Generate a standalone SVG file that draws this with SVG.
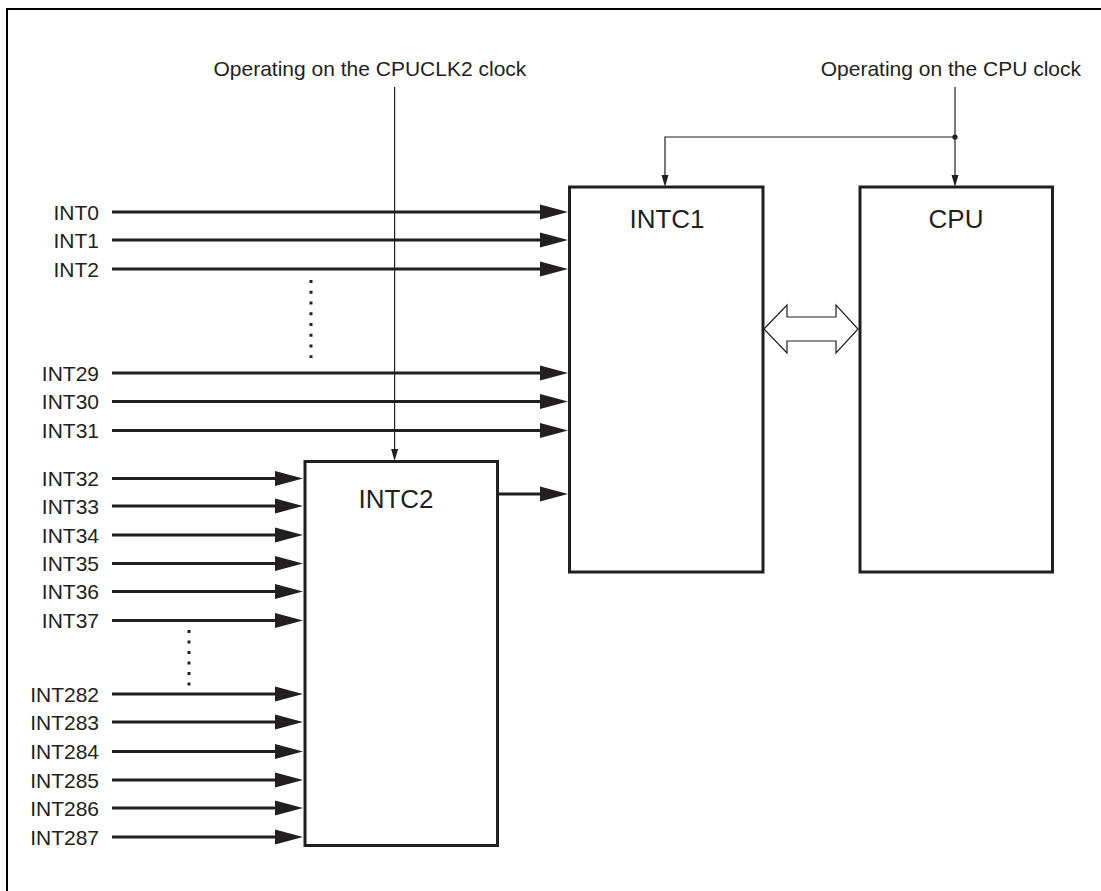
<svg xmlns="http://www.w3.org/2000/svg" width="1101" height="891" viewBox="0 0 1101 891">
<style>
text{font-family:"Liberation Sans",Arial,sans-serif;fill:#231f20}
.lbl{font-size:21px}
.end{text-anchor:end}
.box{fill:#fff;stroke:#231f20;stroke-width:3}
.bt{font-size:26px;text-anchor:middle}
.thick{stroke:#231f20;stroke-width:3;fill:none;marker-end:url(#ah)}
.thin{stroke:#231f20;stroke-width:1.2;fill:none}
.dots{stroke:#231f20;stroke-width:3;fill:none}
</style>
<defs>
<marker id="ah" markerUnits="userSpaceOnUse" markerWidth="28" markerHeight="16" viewBox="0 0 28 16" refX="0" refY="8" orient="auto" overflow="visible">
<path d="M0,0.5 L28,8 L0,15.5 z" fill="#231f20"/>
</marker>
<marker id="sh" markerUnits="userSpaceOnUse" markerWidth="12" markerHeight="8" viewBox="0 0 12 8" refX="0" refY="4" orient="auto" overflow="visible">
<path d="M0,0.5 L12,4 L0,7.5 z" fill="#231f20"/>
</marker>
</defs>
<rect width="1101" height="891" fill="#fff"/>
<path d="M7,891 V9 H1101" fill="none" stroke="#000" stroke-width="2"/>

<g id="clock-labels">
<text class="lbl" x="213.5" y="76">Operating on the CPUCLK2 clock</text>
<text class="lbl end" x="1081" y="76">Operating on the CPU clock</text>
</g>

<g id="connectors">
<line class="thin" x1="394.6" y1="87" x2="394.6" y2="449" marker-end="url(#sh)"/>
<line class="thin" x1="955" y1="87" x2="955" y2="175" marker-end="url(#sh)"/>
<path class="thin" d="M955,137 H665 V175" marker-end="url(#sh)"/>
<circle cx="955" cy="137" r="2.6" fill="#231f20"/>
<line class="thick" x1="112" y1="212" x2="540" y2="212"/>
<line class="thick" x1="112" y1="240" x2="540" y2="240"/>
<line class="thick" x1="112" y1="269" x2="540" y2="269"/>
<line class="thick" x1="112" y1="373" x2="540" y2="373"/>
<line class="thick" x1="112" y1="401.5" x2="540" y2="401.5"/>
<line class="thick" x1="112" y1="430.5" x2="540" y2="430.5"/>
<line class="thick" x1="497" y1="494" x2="540" y2="494"/>
<line class="thick" x1="112" y1="478.5" x2="275" y2="478.5"/>
<line class="thick" x1="112" y1="506" x2="275" y2="506"/>
<line class="thick" x1="112" y1="535" x2="275" y2="535"/>
<line class="thick" x1="112" y1="563.5" x2="275" y2="563.5"/>
<line class="thick" x1="112" y1="591.5" x2="275" y2="591.5"/>
<line class="thick" x1="112" y1="620.5" x2="275" y2="620.5"/>
<line class="thick" x1="112" y1="694" x2="275" y2="694"/>
<line class="thick" x1="112" y1="722" x2="275" y2="722"/>
<line class="thick" x1="112" y1="751.5" x2="275" y2="751.5"/>
<line class="thick" x1="112" y1="780" x2="275" y2="780"/>
<line class="thick" x1="112" y1="808" x2="275" y2="808"/>
<line class="thick" x1="112" y1="837" x2="275" y2="837"/>
<path d="M764,329 L787,305 L787,317 L836,317 L836,305 L858,329 L836,353 L836,341 L787,341 L787,353 z" fill="#fff" stroke="#231f20" stroke-width="1.2" stroke-linejoin="miter"/>
<line class="dots" x1="311" y1="280" x2="311" y2="358" stroke-dasharray="3 7.75"/>
<line class="dots" x1="189" y1="630" x2="189" y2="686" stroke-dasharray="3 7.5"/>
</g>

<g id="input-labels">
<text class="lbl end" x="99" y="219.5">INT0</text>
<text class="lbl end" x="99" y="247.5">INT1</text>
<text class="lbl end" x="99" y="276.5">INT2</text>
<text class="lbl end" x="99" y="380.5">INT29</text>
<text class="lbl end" x="99" y="409">INT30</text>
<text class="lbl end" x="99" y="438">INT31</text>
<text class="lbl end" x="99" y="486">INT32</text>
<text class="lbl end" x="99" y="513.5">INT33</text>
<text class="lbl end" x="99" y="542.5">INT34</text>
<text class="lbl end" x="99" y="571">INT35</text>
<text class="lbl end" x="99" y="599">INT36</text>
<text class="lbl end" x="99" y="628">INT37</text>
<text class="lbl end" x="99" y="701.5">INT282</text>
<text class="lbl end" x="99" y="729.5">INT283</text>
<text class="lbl end" x="99" y="759">INT284</text>
<text class="lbl end" x="99" y="787.5">INT285</text>
<text class="lbl end" x="99" y="815.5">INT286</text>
<text class="lbl end" x="99" y="844.5">INT287</text>
</g>

<g id="intc1">
<rect class="box" x="569.5" y="187" width="193.5" height="385"/>
<text class="bt" x="667" y="228">INTC1</text>
</g>
<g id="cpu">
<rect class="box" x="860" y="187" width="192.5" height="385"/>
<text class="bt" x="956" y="228">CPU</text>
</g>
<g id="intc2">
<rect class="box" x="305" y="461.5" width="192.5" height="384"/>
<text class="bt" x="396" y="508">INTC2</text>
</g>
</svg>
